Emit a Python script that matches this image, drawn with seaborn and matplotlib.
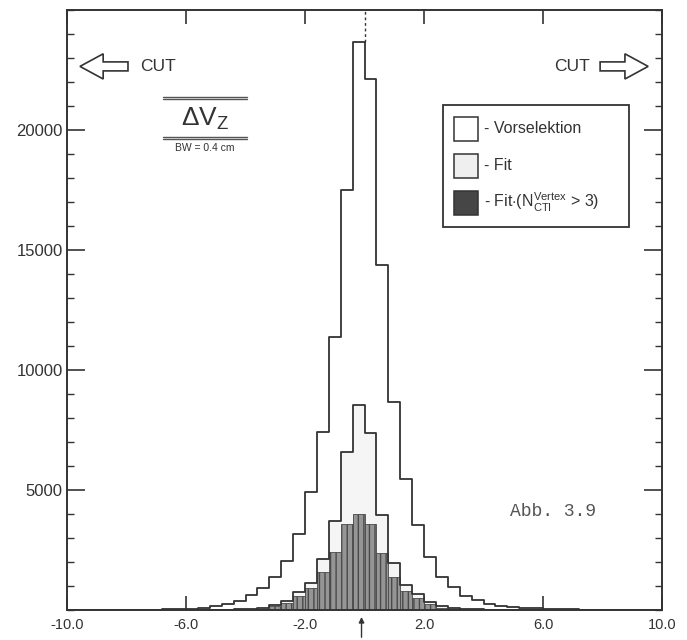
import numpy as np
import pandas as pd
import matplotlib
matplotlib.use("Agg")
import matplotlib.pyplot as plt
from matplotlib.patches import FancyArrow, Rectangle
from matplotlib.ticker import MultipleLocator, FixedLocator
import seaborn as sns

# Histogram binning: BW = 0.4 cm over -10 ... 10 cm
bin_edges = [round(-10.0 + 0.4 * k, 2) for k in range(51)]
bin_centers = [round(e + 0.2, 2) for e in bin_edges[:-1]]

# Entries per bin, Delta V_z
vorselektion = [3, 4, 5, 6, 8, 10, 13, 17, 22, 30,
                55, 92, 167, 267, 383, 638, 921, 1367, 2025, 3167,
                4896, 7400, 11388, 17504, 23650, 22138, 14392, 8658, 5471, 3521,
                2188, 1371, 946, 600, 396, 263, 171, 120, 90, 65,
                50, 38, 28, 20, 15, 11, 8, 6, 4, 3]
fit = [0, 0, 0, 0, 0, 0, 1, 1, 2, 3,
       4, 6, 10, 15, 22, 45, 88, 217, 371, 750,
       1138, 2138, 3696, 6575, 8538, 7375, 3975, 1954, 1054, 654,
       354, 175, 90, 50, 30, 18, 12, 8, 5, 4,
       3, 2, 2, 1, 1, 1, 0, 0, 0, 0]
fit_vertex = [0, 0, 0, 0, 0, 0, 0, 1, 1, 2,
              3, 4, 6, 9, 14, 25, 50, 158, 288, 596,
              917, 1592, 2396, 3604, 4000, 3575, 2367, 1383, 808, 504,
              242, 100, 50, 28, 16, 10, 7, 5, 3, 2,
              2, 1, 1, 1, 0, 0, 0, 0, 0, 0]

x_ticks = [-10.0, -6.0, -2.0, 2.0, 6.0, 10.0]
x_tick_labels = ["-10.0", "-6.0", "-2.0", "2.0", "6.0", "10.0"]
y_ticks = [5000, 10000, 15000, 20000]
y_tick_labels = ["5000", "10000", "15000", "20000"]

df = pd.DataFrame({"dvz": bin_centers, "vorselektion": vorselektion,
                   "fit": fit, "fit_vertex": fit_vertex})

sns.set_style("ticks")
plt.rcParams["font.family"] = ["Liberation Sans", "DejaVu Sans"]
plt.rcParams["mathtext.fontset"] = "custom"
plt.rcParams["mathtext.rm"] = "Liberation Sans"
plt.rcParams["mathtext.it"] = "Liberation Sans:italic"
plt.rcParams["mathtext.bf"] = "Liberation Sans:bold"

INK = "#333333"

fig = plt.figure(figsize=(6.87, 6.40), dpi=100)
ax = fig.add_axes([67 / 687, 30 / 640, 595 / 687, 600 / 640])

# Fit: very light fill
sns.histplot(data=df, x="dvz", weights="fit", bins=bin_edges, element="step",
             fill=True, color="#f5f5f5", alpha=1.0, linewidth=0, ax=ax)
# Fit with N_vertex > 3: hatched dark bars
n_before = len(ax.patches)
sns.histplot(data=df, x="dvz", weights="fit_vertex", bins=bin_edges, element="bars",
             fill=True, color="#959595", alpha=1.0, edgecolor="#4a4a4a",
             linewidth=0.6, ax=ax)
for p in ax.patches[n_before:]:
    p.set_hatch("|||")
# Fit outline
sns.histplot(data=df, x="dvz", weights="fit", bins=bin_edges, element="step",
             fill=False, color=INK, linewidth=1.3, ax=ax)
# Vorselektion outline
sns.histplot(data=df, x="dvz", weights="vorselektion", bins=bin_edges, element="step",
             fill=False, color=INK, linewidth=1.3, ax=ax)

# dashed marker at zero above the peak
ax.plot([0, 0], [max(vorselektion), 25000], ls=(0, (2, 2)), color=INK, lw=1.0)

ax.set_xlim(-10, 10)
ax.set_ylim(0, 25000)
ax.set_xlabel("")
ax.set_ylabel("")

ax.xaxis.set_major_locator(FixedLocator(x_ticks))
ax.set_xticklabels(x_tick_labels)
ax.yaxis.set_major_locator(FixedLocator(y_ticks))
ax.set_yticklabels(y_tick_labels)
ax.yaxis.set_minor_locator(MultipleLocator(1000))

ax.tick_params(axis="x", which="major", direction="in", length=10, width=1.2,
               top=True, bottom=True, labelsize=10.5, pad=6, colors=INK)
ax.tick_params(axis="x", which="minor", bottom=False, top=False)
ax.tick_params(axis="y", which="major", direction="in", length=13, width=1.2,
               left=True, right=True, labelsize=12, pad=3, colors=INK)
ax.tick_params(axis="y", which="minor", direction="in", length=5, width=1.0,
               left=True, right=True, colors=INK)
for s in ax.spines.values():
    s.set_visible(True)
    s.set_linewidth(1.4)
    s.set_color(INK)

# CUT arrows
arrow_kw = dict(width=0.015, head_width=0.042, head_length=0.039,
                length_includes_head=True, transform=ax.transAxes,
                facecolor="white", edgecolor=INK, linewidth=1.2, clip_on=False)
ax.add_patch(FancyArrow(0.1025, 0.906, -0.0807, 0, **arrow_kw))
ax.add_patch(FancyArrow(0.896, 0.906, 0.0807, 0, **arrow_kw))
ax.text(0.123, 0.906, "CUT", transform=ax.transAxes, ha="left", va="center",
        fontsize=12.5, color=INK)
ax.text(0.879, 0.906, "CUT", transform=ax.transAxes, ha="right", va="center",
        fontsize=12.5, color=INK)

# Title block: Delta V_z with bin width
for yy in (0.855, 0.851, 0.789, 0.785):
    ax.plot([0.161, 0.3025], [yy, yy], transform=ax.transAxes, color="#555555", lw=1.0)
ax.text(0.232, 0.818, r"$\Delta$V$_\mathrm{Z}$", transform=ax.transAxes,
        ha="center", va="center", fontsize=19, color=INK)
ax.text(0.232, 0.770, "BW = 0.4 cm", transform=ax.transAxes, ha="center",
        va="center", fontsize=7.5, color=INK)

# Legend box
ax.add_patch(Rectangle((0.632, 0.638), 0.3125, 0.204, transform=ax.transAxes,
                       facecolor="white", edgecolor=INK, linewidth=1.3, zorder=5))
legend_rows = [
    (0.8017, "white", "- Vorselektion"),
    (0.740, "#efefef", "- Fit"),
    (0.679, "#464646", r"- Fit$\cdot$(N$^{\mathrm{Vertex}}_{\mathrm{CTI}}$ > 3)"),
]
for yc, fc, label in legend_rows:
    ax.add_patch(Rectangle((0.650, yc - 0.020), 0.0403, 0.040, transform=ax.transAxes,
                           facecolor=fc, edgecolor=INK, linewidth=1.1, zorder=6))
    ax.text(0.701, yc, label, transform=ax.transAxes, ha="left", va="center",
            fontsize=11.5, color=INK, zorder=6)

ax.text(0.745, 0.165, "Abb. 3.9", transform=ax.transAxes, ha="left", va="center",
        fontsize=13, color="#555555", family=["Liberation Mono", "DejaVu Sans Mono"])

# arrow marking the nominal vertex position below the axis
ax.annotate("", xy=(-0.1, -0.007), xycoords=("data", "axes fraction"),
            xytext=(-0.1, -0.05), textcoords=("data", "axes fraction"),
            arrowprops=dict(arrowstyle="-|>", lw=1.0, color=INK, mutation_scale=8),
            annotation_clip=False)

fig.savefig("out.png", dpi=100, facecolor="white")
